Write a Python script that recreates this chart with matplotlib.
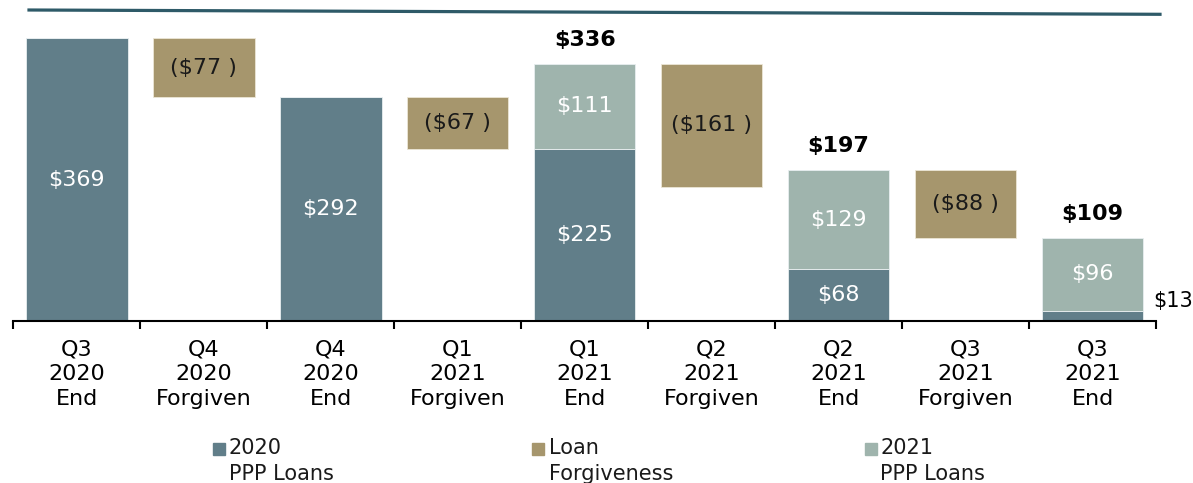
import numpy as np
import matplotlib.pyplot as plt
from matplotlib.lines import Line2D
from matplotlib.patches import Rectangle

plt.rcParams['font.family'] = 'DejaVu Sans'

# chart data ($ billions)
categories = ['Q3\n2020\nEnd', 'Q4\n2020\nForgiven', 'Q4\n2020\nEnd', 'Q1\n2021\nForgiven',
              'Q1\n2021\nEnd', 'Q2\n2021\nForgiven', 'Q2\n2021\nEnd', 'Q3\n2021\nForgiven',
              'Q3\n2021\nEnd']
end_idx = [0, 2, 4, 6, 8]
loans_2020 = [369, 292, 225, 68, 13]
loans_2021 = [0, 0, 111, 129, 96]
forgiven_idx = [1, 3, 5, 7]
forgiven = [77, 67, 161, 88]
legend_labels = ['2020\nPPP Loans', 'Loan\nForgiveness', '2021\nPPP Loans']

c2020 = '#617e89'
cforg = '#a6966d'
c2021 = '#9fb4ad'

W, H = 1193, 483
fig = plt.figure(figsize=(W / 100, H / 100), dpi=100)
ax = fig.add_axes([13.3 / W, (H - 321) / H, 1142.7 / W, 306.4 / H])

loans_2020 = np.array(loans_2020)
loans_2021 = np.array(loans_2021)
totals = loans_2020 + loans_2021
forg_bottom = totals[:-1] - np.array(forgiven)

ax.bar(end_idx, loans_2020, width=0.8, color=c2020, edgecolor='#e8eef0', linewidth=0.6)
ax.bar(end_idx, loans_2021, width=0.8, bottom=loans_2020, color=c2021,
       edgecolor='#e8eef0', linewidth=0.6)
ax.bar(forgiven_idx, forgiven, width=0.8, bottom=forg_bottom, color=cforg,
       edgecolor='#ece6d6', linewidth=0.6)

fs = 16
for x, a, b, t in zip(end_idx, loans_2020, loans_2021, totals):
    if a >= 30:
        ax.text(x, a / 2, f'${a}', ha='center', va='center', color='white', fontsize=fs)
    else:
        # small segment: label sits outside, right of the bar
        ax.annotate(f'${a}', xy=(x + 0.5, a), xytext=(-2, 0), textcoords='offset points',
                    ha='left', va='bottom', fontsize=15, color='black', annotation_clip=False)
    if b > 0:
        ax.text(x, a + b / 2, f'${b}', ha='center', va='center', color='white', fontsize=fs)
        ax.annotate(f'${t}', xy=(x, t), xytext=(0, 10), textcoords='offset points',
                    ha='center', va='bottom', fontsize=fs, fontweight='bold', color='black')

for x, v, b in zip(forgiven_idx, forgiven, forg_bottom):
    ax.text(x, b + v / 2, f'(${v} )', ha='center', va='center', color='#1a1a1a', fontsize=fs)

ax.set_xlim(-0.5, 8.5)
ax.set_ylim(0, 400)
for s in ['left', 'top', 'right']:
    ax.spines[s].set_visible(False)
ax.spines['bottom'].set_linewidth(1.5)
ax.set_yticks([])
ax.set_xticks(range(len(categories)))
ax.set_xticklabels(categories, fontsize=fs, linespacing=1.3)
ax.tick_params(axis='x', which='major', length=0, pad=13)
ax.set_xticks(np.arange(-0.5, 9, 1), minor=True)
ax.tick_params(axis='x', which='minor', length=6, width=1.5, direction='out')

# decorative rule across the top
fig.add_artist(Line2D([29 / W, 1160 / W], [1 - 10 / H, 1 - 14.3 / H],
                      color='#2e5a68', linewidth=2.3))

# legend
for sx, tx, col, lab in zip([213, 532, 865], [229, 549, 880], [c2020, cforg, c2021], legend_labels):
    fig.add_artist(Rectangle((sx / W, 1 - 455 / H), 12 / W, 12 / H, color=col,
                             transform=fig.transFigure))
    fig.text(tx / W, 1 - 438 / H, lab, ha='left', va='top', fontsize=15,
             linespacing=1.4, color='#1a1a1a')

fig.savefig('out.png', dpi=100)
